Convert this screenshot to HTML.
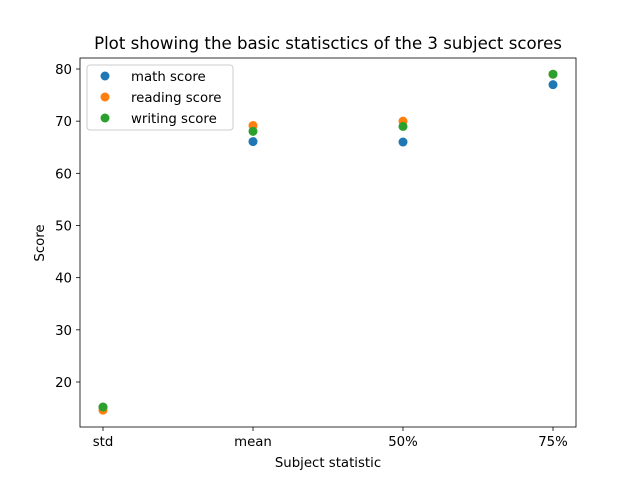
<!DOCTYPE html>
<html><head><meta charset="utf-8"><style>body{margin:0;background:#fff}svg{display:block;font-family:"DejaVu Sans","Liberation Sans",sans-serif}</style></head>
<body>
<svg id="chart" width="640" height="480">
<rect width="640" height="480" fill="#fff"/>
<text x="328" y="49" font-size="16.6" text-anchor="middle">Plot showing the basic statisctics of the 3 subject scores</text>
<g id="axes"></g>
<g id="marks"></g>
<rect x="80" y="58" width="496" height="369" fill="none" stroke="#000" stroke-width="0.8"/>
<text x="328" y="467" font-size="13.3" text-anchor="middle">Subject statistic</text>
<text transform="translate(44,243) rotate(-90)" font-size="13.3" text-anchor="middle">Score</text>
<g>
<rect x="87" y="65" width="146" height="65" rx="3" fill="#fff" fill-opacity="0.8" stroke="#ccc"/>
<g id="legend-entries"></g>
</g>
</svg>
<script>
const categories=["std","mean","50%","75%"];
const seriesNames=["math score","reading score","writing score"];
const colors=["#1f77b4","#ff7f0e","#2ca02c"];
const mathScores=[15.16,66.09,66,77];
const readingScores=[14.6,69.17,70,79];
const writingScores=[15.2,68.05,69,79];
const yTicks=[20,30,40,50,60,70,80];
const series=[mathScores,readingScores,writingScores];
const NS="http://www.w3.org/2000/svg";
function xPos(i){return 103+i*150;}
function yPos(v){return 382-(v-20)*(313/60);}
function mk(tag,attrs,parent){const e=document.createElementNS(NS,tag);for(const k in attrs)e.setAttribute(k,attrs[k]);parent.appendChild(e);return e;}
const axes=document.getElementById("axes"),marks=document.getElementById("marks");
categories.forEach((c,i)=>{
 const t=mk("line",{x1:xPos(i),x2:xPos(i),y1:427,y2:431,stroke:"#000","stroke-width":0.8},axes);
 
 
 const l=mk("text",{x:xPos(i),y:446,"font-size":13.3,"text-anchor":"middle"},axes);l.textContent=c;
 
 
});
yTicks.forEach(v=>{
 const t=mk("line",{x1:76,x2:80,y1:yPos(v),y2:yPos(v),stroke:"#000","stroke-width":0.8},axes);
 
 
 const l=mk("text",{x:72,y:yPos(v)+5,"font-size":13.3,"text-anchor":"end"},axes);l.textContent=v;
 
 
});
series.forEach((s,si)=>{
 s.forEach((v,i)=>{
  const c=mk("circle",{cx:xPos(i),cy:yPos(v),r:4.5,fill:colors[si]},marks);
  
  
 });
});
const le=document.getElementById("legend-entries");
seriesNames.forEach((n,i)=>{
 const y=76+i*21;
 const c=mk("circle",{cx:105,cy:y,r:4.5,fill:colors[i]},le);
 
 
 const t=mk("text",{x:131,y:y+5,"font-size":13.3},le);t.textContent=n;
 
 
});
</script>
</body></html>
